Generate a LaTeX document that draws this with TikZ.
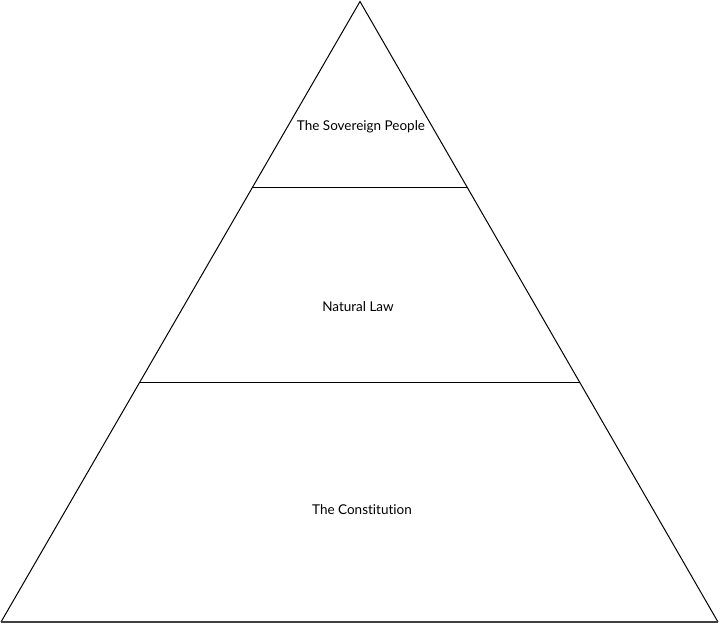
\documentclass[tikz,border=0pt]{standalone}
\usepackage{fontspec}
\setmainfont{Lato}[Ligatures=NoCommon]
\usetikzlibrary{calc}

\begin{document}
\begin{tikzpicture}[x=1pt, y=-1pt, every node/.style={font=\fontsize{13.5}{16}\selectfont}]
        \useasboundingbox (0, 0) rectangle (720, 624);

        \coordinate (top) at (360, 1.5);
        \coordinate (bl) at (1, 622);
        \coordinate (br) at (718, 622);

        \draw[line width=1pt, line join=miter] (bl) -- (top) -- (br);
        \draw[line width=1.6pt, black!75] (bl) -- (br);

        \draw[line width=1pt] ($(top)!0.299!(bl)$) -- ($(top)!0.299!(br)$);
        \draw[line width=1pt] ($(top)!0.6148!(bl)$) -- ($(top)!0.6148!(br)$);

        \node (people) at (361, 127) {The Sovereign People};
        \node (natlaw) at (358, 307) {Natural Law};
        \node (constitution) at (362, 510) {The Constitution};
      \end{tikzpicture}
\end{document}
